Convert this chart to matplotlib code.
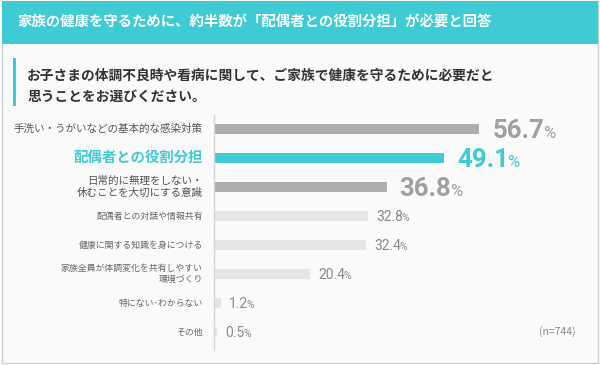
import matplotlib
matplotlib.use("Agg")
import matplotlib.pyplot as plt
from matplotlib.patches import Rectangle

plt.rcParams["font.family"] = ["Noto Sans CJK JP", "DejaVu Sans"]

TITLE = "家族の健康を守るために、約半数が「配偶者との役割分担」が必要と回答"
QUESTION = ["お子さまの体調不良時や看病に関して、ご家族で健康を守るために必要だと",
            "思うことをお選びください。"]
categories = [
    "手洗い・うがいなどの基本的な感染対策",
    "配偶者との役割分担",
    "日常的に無理をしない・\n休むことを大切にする意識",
    "配偶者との対話や情報共有",
    "健康に関する知識を身につける",
    "家族全員が体調変化を共有しやすい\n環境づくり",
    "特にない･わからない",
    "その他",
]
values = [56.7, 49.1, 36.8, 32.8, 32.4, 20.4, 1.2, 0.5]
n_note = "(n=744)"
highlight = 1

TEAL = "#3ECBD3"
NUM_FONT = "Roboto"
W, H = 600, 365

fig = plt.figure(figsize=(W / 100, H / 100), dpi=100)
fig.patch.set_facecolor("white")

# background / decoration axes in pixel coordinates
bg = fig.add_axes([0, 0, 1, 1])
bg.set_xlim(0, W)
bg.set_ylim(H, 0)
bg.axis("off")
bg.add_patch(Rectangle((2, 1), 596, 362, facecolor="#FAFAFA", edgecolor="#D0D0D0", lw=1))
bg.add_patch(Rectangle((2, 1), 596, 43, facecolor=TEAL, edgecolor="none"))
bg.text(17, 23, TITLE, color="white", fontsize=10.4, fontweight="bold", va="center", ha="left")
bg.add_patch(Rectangle((12.5, 58), 3, 48, facecolor=TEAL, edgecolor="none"))
bg.text(27, 76, QUESTION[0], color="#333333", fontsize=9.9, fontweight="bold", va="center")
bg.text(27, 97, QUESTION[1], color="#333333", fontsize=9.9, fontweight="bold", va="center")
bg.text(576, 332, n_note, color="#888888", fontsize=7.5, va="center", ha="right")

# bar axes: 4.66 px per percent, starting at x=214
x0, x1 = 214, 214 + 4.66 * 80
ytop, ybot = 114.5, 350
ax = fig.add_axes([x0 / W, 1 - ybot / H, (x1 - x0) / W, (ybot - ytop) / H])
ax.set_xlim(0, 80)
ax.set_ylim(7.62, -0.5)
ax.patch.set_alpha(0)
for s in ["top", "right", "bottom"]:
    ax.spines[s].set_visible(False)
ax.spines["left"].set_color("#D5D5D5")
ax.spines["left"].set_linewidth(1)
ax.set_xticks([])
ax.set_yticks([])

ypos = list(range(len(categories)))
bar_colors = []
for i in ypos:
    if i == highlight:
        bar_colors.append(TEAL)
    elif i < 3:
        bar_colors.append("#ADADAD")
    else:
        bar_colors.append("#E6E6E6")
ax.barh(ypos, values, height=0.35, color=bar_colors, left=0.25)

nums = []
for i, (cat, v) in enumerate(zip(categories, values)):
    # category label
    if i == highlight:
        ax.annotate(cat, xy=(0, i), xytext=(-11, 0), textcoords="offset pixels",
                    ha="right", va="center", fontsize=10.4, fontweight="bold", color=TEAL)
    elif i < 3:
        ax.annotate(cat, xy=(0, i), xytext=(-11, 0), textcoords="offset pixels",
                    ha="right", va="center", fontsize=7.6, color="#555555",
                    multialignment="right", linespacing=1.15)
    else:
        ax.annotate(cat, xy=(0, i), xytext=(-11, 0), textcoords="offset pixels",
                    ha="right", va="center", fontsize=6.4, color="#666666",
                    multialignment="right", linespacing=1.2)

    # value number, baseline placed so the cap height is centred on the bar
    if i < 3:
        num_pt, pct_pt, gap = 18.5, 12, 13
        col = TEAL if i == highlight else "#A0A0A0"
        weight = "bold"
    else:
        num_pt, pct_pt, gap = 10, 7.5, 8
        col = "#8A8A8A"
        weight = "normal"
    cap = 0.72 * num_pt * 100 / 72
    t = ax.annotate(f"{v:.1f}", xy=(v + 0.25, i), xytext=(gap, -cap / 2),
                    textcoords="offset pixels", ha="left", va="baseline",
                    fontsize=num_pt, fontweight=weight, color=col, family=NUM_FONT)
    nums.append((t, pct_pt, col, cap, v, i))

# "%" sign right after each number, on the same baseline
fig.canvas.draw()
renderer = fig.canvas.get_renderer()
for t, pct_pt, col, cap, v, i in nums:
    bb = t.get_window_extent(renderer)
    base_y = ax.transData.transform((v + 0.25, i))[1] - cap / 2
    ax.annotate("%", xy=(bb.x1 - 1.5, base_y), xycoords="figure pixels",
                ha="left", va="baseline", fontsize=pct_pt, color=col, family=NUM_FONT)

fig.savefig("out.png", dpi=100, facecolor=fig.get_facecolor())
